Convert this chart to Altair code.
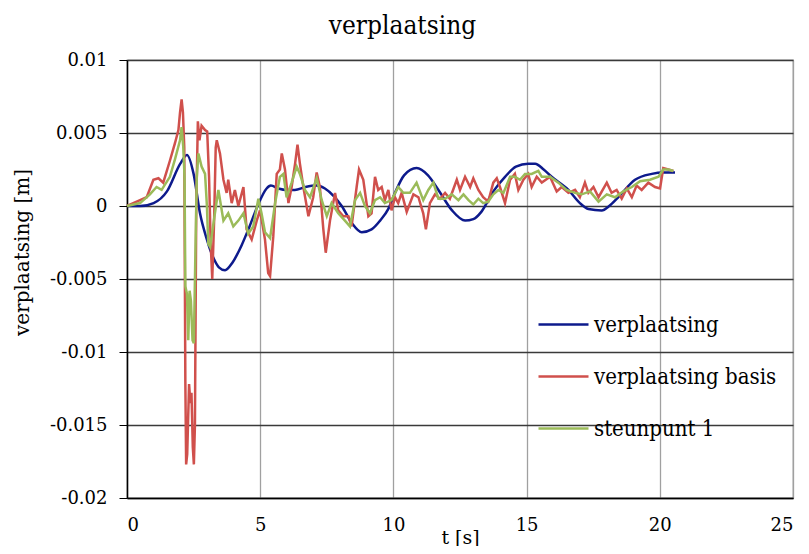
import altair as alt
import pandas as pd

series_names = ["verplaatsing", "verplaatsing basis", "steunpunt 1"]
series_colors = ["#0d1a8c", "#d0504c", "#9bbb59"]

t_blue = [0, 0.5, 1.0, 1.5, 2.0, 2.25, 2.5, 2.74, 3.0, 3.23, 3.45, 3.68, 3.95, 4.3, 4.6, 4.9,
          5.24, 5.4, 5.68, 6.0, 6.3, 6.7, 7.12, 7.43, 7.75, 8.06, 8.45, 8.81, 9.18, 9.5, 9.81,
          10.06, 10.4, 10.87, 11.3, 11.69, 12.2, 12.69, 13.0, 13.3, 13.75, 14.19, 14.6, 15.06,
          15.32, 15.64, 15.94, 16.57, 17.0, 17.32, 17.82, 18.1, 18.44, 19.07, 19.7, 20.1, 20.57]
v_blue = [0, 0.0, 0.0002, 0.001, 0.0029, 0.0035, 0.0022, -0.0005, -0.0023, -0.0035, -0.0042,
          -0.0044, -0.0039, -0.0027, -0.0014, 0.0, 0.0012, 0.0014, 0.0012, 0.0011, 0.0011, 0.0013,
          0.0014, 0.0012, 0.0007, 0.0, -0.0012, -0.0018, -0.0016, -0.001, -0.0002, 0.0009, 0.0021,
          0.0026, 0.0021, 0.0011, -0.0003, -0.001, -0.0009, -0.0004, 0.001, 0.002, 0.0027, 0.0029,
          0.0029, 0.0025, 0.002, 0.0011, 0.0002, -0.0002, -0.0003, 0.0, 0.0006, 0.0018, 0.0022,
          0.0023, 0.0023]

t_red = [0, 0.49, 0.74, 0.99, 1.18, 1.36, 1.61, 1.8, 1.93, 1.99, 2.05, 2.1, 2.15, 2.19, 2.22,
         2.26, 2.33, 2.38, 2.42, 2.47, 2.51, 2.55, 2.6, 2.66, 2.72, 2.8, 2.93, 3.01, 3.08, 3.14,
         3.2, 3.27, 3.33, 3.37, 3.49, 3.62, 3.74, 3.8, 3.93, 4.05, 4.18, 4.37, 4.49, 4.68, 4.87,
         4.99, 5.06, 5.18, 5.3, 5.37, 5.49, 5.62, 5.74, 5.81, 5.93, 6.06, 6.18, 6.31, 6.4, 6.49,
         6.62, 6.81, 6.99, 7.12, 7.24, 7.37, 7.46, 7.62, 7.81, 7.93, 8.12, 8.31, 8.43, 8.62, 8.71,
         8.87, 9.06, 9.18, 9.31, 9.43, 9.56, 9.68, 9.81, 9.93, 10.06, 10.18, 10.31, 10.5, 10.75,
         10.94, 11.12, 11.22, 11.37, 11.56, 11.75, 11.94, 12.12, 12.38, 12.5, 12.69, 12.88, 13.0,
         13.19, 13.37, 13.56, 13.75, 13.88, 14.0, 14.19, 14.38, 14.56, 14.69, 14.88, 15.06, 15.19,
         15.38, 15.57, 15.88, 16.13, 16.32, 16.57, 16.82, 17.0, 17.19, 17.32, 17.51, 17.7, 18.01,
         18.19, 18.38, 18.57, 18.76, 18.95, 19.13, 19.32, 19.57, 19.82, 20.01, 20.13, 20.32, 20.51]
v_red = [0, 0.0004, 0.0006, 0.0018, 0.0019, 0.0016, 0.0031, 0.0043, 0.0052, 0.0064, 0.0073,
         0.0064, 0.004, -0.012, -0.0177, -0.017, -0.0122, -0.0135, -0.0128, -0.0165, -0.0177,
         -0.015, 0.0, 0.0058, 0.0045, 0.0055, 0.0052, 0.0051, 0.002, -0.0025, -0.005, -0.001,
         0.004, 0.0045, 0.0036, 0.0018, 0.0009, 0.0018, 0.0002, 0.0011, 0.0, 0.0013, -0.0016,
         -0.0023, -0.001, -0.0003, -0.001, -0.0023, -0.0046, -0.0048, -0.0021, 0.0022, 0.0025,
         0.0036, 0.0025, 0.0002, 0.0013, 0.0029, 0.0042, 0.0029, 0.0013, -0.0007, 0.0006, 0.0023,
         0.0013, -0.0016, -0.0032, -0.001, 0.0009, -0.0003, -0.0007, -0.0007, -0.0014, 0.0013,
         0.0025, 0.0018, -0.0007, -0.0005, 0.002, 0.0011, 0.0013, 0.0004, 0.0011, -0.0003, 0.0006,
         0.0002, 0.0009, -0.0004, 0.0008, 0.0006, -0.0005, -0.0016, 0.0002, 0.0008, 0.0005, 0.0009,
         0.0005, 0.0018, 0.0011, 0.002, 0.0013, 0.0019, 0.0011, 0.0006, 0.0003, 0.0016, 0.0019,
         0.0013, 0.0002, 0.0018, 0.0022, 0.0011, 0.0018, 0.0022, 0.0013, 0.002, 0.0016, 0.002,
         0.001, 0.0013, 0.0009, 0.0011, 0.0006, 0.0016, 0.0009, 0.0013, 0.0006, 0.0016, 0.0009,
         0.0011, 0.0005, 0.0012, 0.0006, 0.0014, 0.0011, 0.0016, 0.0013, 0.0012, 0.0026, 0.0025,
         0.0024]

t_green = [0, 0.49, 0.86, 1.11, 1.3, 1.61, 1.8, 1.99, 2.05, 2.11, 2.16, 2.19, 2.25, 2.3, 2.35,
           2.4, 2.46, 2.51, 2.56, 2.62, 2.68, 2.8, 2.93, 3.0, 3.05, 3.12, 3.3, 3.43, 3.62, 3.8,
           3.99, 4.18, 4.37, 4.55, 4.74, 4.93, 5.05, 5.18, 5.37, 5.56, 5.74, 5.87, 5.99, 6.18,
           6.37, 6.49, 6.68, 6.87, 7.12, 7.31, 7.5, 7.68, 7.93, 8.18, 8.37, 8.56, 8.75, 8.93,
           9.12, 9.31, 9.5, 9.68, 9.93, 10.18, 10.37, 10.62, 10.87, 11.12, 11.31, 11.5, 11.69,
           11.94, 12.19, 12.44, 12.63, 12.82, 13.0, 13.19, 13.37, 13.56, 13.75, 13.94, 14.13,
           14.38, 14.56, 14.75, 14.94, 15.19, 15.44, 15.57, 15.88, 16.19, 16.5, 16.82, 17.07,
           17.38, 17.7, 18.01, 18.32, 18.63, 18.95, 19.26, 19.63, 19.95, 20.13, 20.32, 20.51]
v_green = [0, 0.0002, 0.0008, 0.0013, 0.0011, 0.002, 0.0032, 0.0045, 0.0054, 0.0041, 0.002,
           -0.0055, -0.006, -0.0092, -0.0058, -0.0065, -0.0092, -0.0094, -0.004, 0.002, 0.0036,
           0.0027, 0.0022, 0.0, -0.0026, -0.0028, -0.0005, 0.0011, -0.001, -0.0005, -0.0014,
           -0.001, -0.0005, -0.0019, -0.0014, 0.0005, -0.0005, -0.0018, -0.0022, 0.0002, 0.002,
           0.0022, 0.0006, 0.0016, 0.0027, 0.0022, 0.0011, 0.0006, 0.0019, 0.0004, -0.0007,
           0.0002, -0.0005, -0.001, -0.0014, 0.0004, 0.0009, 0.0, -0.0005, 0.0004, 0.0006, 0.0002,
           0.0004, 0.0013, 0.0009, 0.0009, 0.0016, 0.0004, 0.0011, 0.0016, 0.0005, 0.0005, 0.0008,
           0.0004, 0.0008, 0.0004, 0.0001, 0.0005, 0.0002, 0.0003, 0.0008, 0.0011, 0.0009, 0.002,
           0.002, 0.0018, 0.0022, 0.0022, 0.0024, 0.002, 0.002, 0.0016, 0.0011, 0.0009, 0.0008,
           0.001, 0.0003, 0.0008, 0.0006, 0.001, 0.0013, 0.0017, 0.0018, 0.002, 0.0025, 0.0025,
           0.0024]

x_ticks = [0, 5, 10, 15, 20, 25]
y_ticks = [-0.02, -0.015, -0.01, -0.005, 0, 0.005, 0.01]

frames = []
for name, ts, vs in [(series_names[0], t_blue, v_blue),
                     (series_names[1], t_red, v_red),
                     (series_names[2], t_green, v_green)]:
    frames.append(pd.DataFrame({"t": ts, "v": vs, "serie": name}))
df = pd.concat(frames, ignore_index=True)

FONT = "DejaVu Serif"
FONT_C = "DejaVu Serif Condensed"

x_enc = alt.X("t:Q", scale=alt.Scale(domain=[0, 25], nice=False),
              axis=alt.Axis(values=x_ticks, title="t [s]", ticks=False, labelPadding=18,
                            titlePadding=-6, gridColor="#a0a0a0", gridWidth=1.3,
                            domainColor="#000000", domainWidth=1.5,
                            labelFont=FONT, titleFont=FONT, labelFontSize=18,
                            titleFontSize=19))
y_enc = alt.Y("v:Q", scale=alt.Scale(domain=[-0.02, 0.01], nice=False),
              axis=alt.Axis(values=y_ticks, title="verplaatsing [m]",
                            labelExpr="replace(format(datum.value, '.3~f'), '\u2212', '-')",
                            tickSize=8, labelPadding=12,
                            titleX=-105, titleY=192, titleAngle=270,
                            titleAlign="center", titleBaseline="middle",
                            gridColor="#3a3a3a", gridWidth=1.5, tickColor="#000000",
                            domainColor="#000000", domainWidth=1.5,
                            labelFont=FONT, titleFont=FONT, labelFontSize=18,
                            titleFontSize=20))
color_enc = alt.Color("serie:N",
                      scale=alt.Scale(domain=series_names, range=series_colors),
                      legend=alt.Legend(title=None, orient="none", legendX=410, legendY=238,
                                        symbolType="stroke", symbolSize=2500,
                                        symbolStrokeWidth=2.5, labelFont=FONT_C,
                                        labelFontSize=22, labelOffset=4, rowPadding=14,
                                        padding=0, labelColor="#000000", labelLimit=400))

layers = []
for i, name in enumerate(series_names):
    interp = "monotone" if i == 0 else "linear"
    layers.append(
        alt.Chart(df).transform_filter(alt.datum.serie == name)
        .mark_line(strokeWidth=2.5, interpolate=interp)
        .encode(x=x_enc, y=y_enc, color=color_enc)
    )

chart = alt.layer(*layers).properties(
    width=666, height=438,
    title=alt.TitleParams("verplaatsing", font=FONT_C, fontSize=26, fontWeight="normal",
                          color="#000000", offset=12, frame="bounds", anchor="middle"),
    autosize=alt.AutoSizeParams(type="none"),
    padding={"left": 119, "top": 52, "right": 8, "bottom": 48},
).configure_axis(
    labelColor="#000000", titleFontWeight="normal", titleColor="#000000", grid=True,
).configure_view(stroke="#a0a0a0", strokeWidth=1.3)

chart.save("out.html", embed_options={"renderer": "svg", "actions": False})
